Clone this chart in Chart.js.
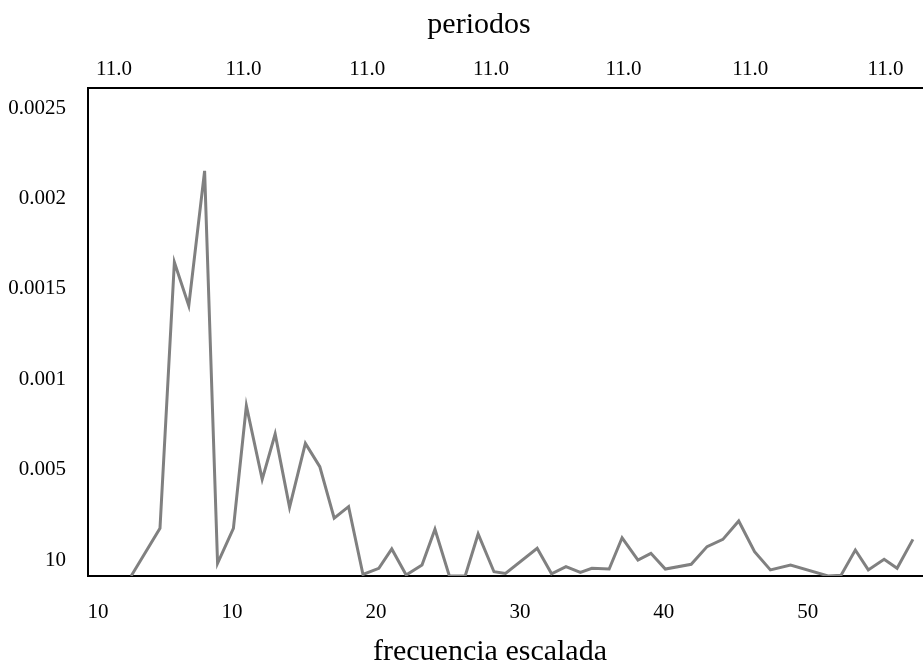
<!DOCTYPE html>
<html>
<head>
<meta charset="utf-8">
<script src="https://cdn.jsdelivr.net/npm/chart.js@4"></script>
<style>
    html, body { margin: 0; padding: 0; background: #fff; }
</style>
</head>
<body>
<canvas id="chart" width="923" height="669"></canvas>
<script>
// scaled frequency of each sample (bottom axis)
const freq = [3.0, 5.0, 6.0, 7.0, 8.1, 9.0, 10.1, 11.0, 12.1, 13.0,
    14.0, 15.1, 16.1, 17.1, 18.1, 19.1, 20.2, 21.1, 22.1, 23.2,
    24.1, 25.1, 26.2, 27.1, 28.2, 29.0, 31.2, 32.2, 33.2, 34.2,
    35.0, 36.2, 37.1, 38.2, 39.1, 40.1, 41.9, 43.0, 44.1, 45.2,
    46.3, 47.4, 48.8, 51.4, 52.3, 53.3, 54.2, 55.3, 56.2, 57.3];

// spectral power
const power = [-0.000088, 0.000175, 0.001647, 0.001407, 0.002152, -0.000018, 0.000175, 0.000853, 0.000446, 0.000697,
    0.000291, 0.000645, 0.000516, 0.000231, 0.000295, -0.000080, -0.000046, 0.000061, -0.000083, -0.000028,
    0.000170, -0.000088, -0.000088, 0.000144, -0.000065, -0.000074, 0.000065, -0.000076, -0.000037, -0.000068,
    -0.000046, -0.000050, 0.000123, 0.000000, 0.000037, -0.000050, -0.000024, 0.000074, 0.000114, 0.000216,
    0.000046, -0.000055, -0.000028, -0.000088, -0.000085, 0.000055, -0.000055, 0.000004, -0.000046, 0.000114];

// tick values and the labels printed on the original axes
const xTickValues = [0.7, 10, 20, 30, 40, 50];
const xTickLabels = ['10', '10', '20', '30', '40', '50'];
const topTickValues = [1.8, 10.8, 19.4, 28.0, 37.2, 46.0, 55.4];
const topTickLabels = ['11.0', '11.0', '11.0', '11.0', '11.0', '11.0', '11.0'];
const yTickValues = [0, 0.0005, 0.001, 0.0015, 0.002, 0.0025];
const yTickLabels = ['10', '0.005', '0.001', '0.0015', '0.002', '0.0025'];

const fontFamily = "'Liberation Serif', 'DejaVu Serif', serif";
const tickFont = { family: fontFamily, size: 21 };
const titleFont = { family: fontFamily, size: 30 };

const points = freq.map((f, i) => ({ x: f, y: power[i] }));

function setTicks(values) {
    return axis => { axis.ticks = values.map(v => ({ value: v })); };
}

// axis titles sit a little left of centre in the original, so draw them by hand
const axisTitles = {
    id: 'axisTitles',
    afterDraw(chart) {
        const c = chart.ctx;
        c.save();
        c.fillStyle = '#000';
        c.font = titleFont.size + 'px ' + fontFamily;
        c.textAlign = 'center';
        c.textBaseline = 'middle';
        c.fillText('periodos', 479, 25);
        c.fillText('frecuencia escalada', 490, 652);
        c.restore();
    }
};

const ctx = document.getElementById('chart').getContext('2d');
new Chart(ctx, {
    type: 'line',
    data: {
        datasets: [{
            data: points,
            borderColor: '#808080',
            borderWidth: 3,
            pointRadius: 0,
            tension: 0,
            fill: false
        }]
    },
    options: {
        responsive: false,
        animation: false,
        layout: { padding: 0 },
        plugins: {
            legend: { display: false },
            tooltip: { enabled: false }
        },
        scales: {
            x: {
                type: 'linear',
                position: 'bottom',
                min: 0,
                max: 58.0,
                afterBuildTicks: setTicks(xTickValues),
                afterFit: axis => { axis.height = 93; },
                grid: { display: false, drawTicks: false },
                border: { display: true, color: '#000', width: 2 },
                ticks: {
                    autoSkip: false,
                    maxRotation: 0,
                    padding: 24,
                    color: '#000',
                    font: tickFont,
                    callback: (v, i) => xTickLabels[i]
                }
            },
            xTop: {
                type: 'linear',
                axis: 'x',
                position: 'top',
                min: 0,
                max: 58.0,
                afterBuildTicks: setTicks(topTickValues),
                afterFit: axis => { axis.height = 88; },
                grid: { display: false, drawTicks: false },
                border: { display: true, color: '#000', width: 2 },
                ticks: {
                    autoSkip: false,
                    maxRotation: 0,
                    padding: 6,
                    color: '#000',
                    font: tickFont,
                    callback: (v, i) => topTickLabels[i]
                }
            },
            y: {
                type: 'linear',
                position: 'left',
                min: -0.0000885,
                max: 0.0026106,
                afterBuildTicks: setTicks(yTickValues),
                afterFit: axis => { axis.width = 88; },
                grid: { display: false, drawTicks: false },
                border: { display: true, color: '#000', width: 2 },
                ticks: {
                    autoSkip: false,
                    padding: 22,
                    color: '#000',
                    font: tickFont,
                    callback: (v, i) => yTickLabels[i]
                }
            }
        }
    },
    plugins: [axisTitles]
});
</script>
</body>
</html>
